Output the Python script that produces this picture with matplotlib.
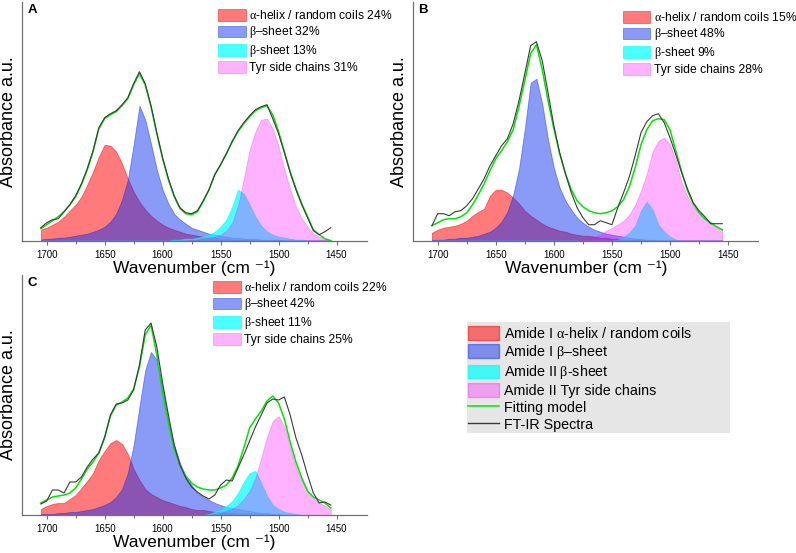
import matplotlib.pyplot as plt
from matplotlib.patches import Patch, Rectangle
from matplotlib.lines import Line2D

plt.rcParams['font.family'] = ['Liberation Sans', 'DejaVu Sans']
plt.rcParams['mathtext.fontset'] = 'custom'
plt.rcParams['mathtext.rm'] = 'Liberation Serif'

wavenumber = [1705, 1700, 1695, 1690, 1685, 1680, 1675, 1670, 1665, 1660,
              1655, 1650, 1645, 1640, 1635, 1630, 1625, 1620, 1615, 1610,
              1605, 1600, 1595, 1590, 1585, 1580, 1575, 1570, 1565, 1560,
              1555, 1550, 1545, 1540, 1535, 1530, 1525, 1520, 1515, 1510,
              1505, 1500, 1495, 1490, 1485, 1480, 1475, 1470, 1465, 1460, 1455]

# panel A
a_helix = [11, 13, 16, 19, 24, 30, 36, 44, 56, 69,
           84, 96, 95, 89, 77, 62, 49, 39, 31, 25,
           20, 16, 13, 11, 9, 7, 6, 5, 4, 3,
           3, 2, 2, 1, 1, 1, 1, 0, 0, 0,
           0, 0, 0, 0, 0, 0, 0, 0, 0, 0, 0]
a_sheet1 = [1, 2, 2, 3, 3, 4, 5, 6, 7, 9,
            11, 14, 19, 27, 41, 61, 96, 135, 121, 97,
            71, 51, 37, 27, 21, 17, 13, 11, 9, 7,
            6, 5, 4, 3, 3, 2, 2, 2, 1, 1,
            1, 1, 0, 0, 0, 0, 0, 0, 0, 0, 0]
a_sheet2 = [0, 0, 0, 0, 0, 0, 0, 0, 0, 0,
            0, 0, 0, 0, 0, 0, 0, 0, 0, 0,
            0, 0, 0, 1, 1, 2, 2, 3, 4, 6,
            9, 14, 21, 34, 51, 47, 36, 24, 15, 9,
            6, 4, 3, 2, 1, 1, 0, 0, 0, 0, 0]
a_tyr = [0, 0, 0, 0, 0, 0, 0, 0, 0, 0,
         0, 0, 0, 0, 0, 0, 0, 0, 0, 0,
         0, 0, 0, 0, 0, 0, 1, 1, 2, 3,
         4, 6, 10, 18, 35, 62, 91, 109, 121, 122,
         112, 94, 71, 51, 34, 22, 14, 7, 4, 2, 1]
a_fit = [12, 16, 20, 24, 29, 36, 44, 56, 71, 89,
         112, 122, 126, 129, 135, 142, 156, 167, 156, 134,
         107, 82, 61, 44, 32, 27, 26, 29, 39, 51,
         66, 76, 87, 99, 109, 117, 124, 130, 133, 135,
         126, 109, 89, 69, 52, 37, 24, 11, 6, 2, 0]
a_spectrum = [13, 18, 21, 22, 29, 36, 45, 57, 72, 90,
              113, 123, 127, 130, 136, 143, 157, 169, 157, 135,
              108, 83, 62, 45, 33, 28, 27, 30, 40, 51,
              66, 76, 87, 99, 110, 118, 125, 131, 134, 136,
              122, 107, 88, 68, 51, 36, 23, 10, 6, 9, 13]
a_pct = ['24%', '32%', '13%', '31%']

# panel B
b_helix = [8, 11, 13, 14, 15, 17, 20, 25, 29, 32,
           45, 51, 51, 48, 43, 37, 30, 25, 21, 17,
           14, 12, 10, 9, 7, 6, 5, 5, 4, 3,
           3, 2, 2, 1, 1, 1, 1, 0, 0, 0,
           0, 0, 0, 0, 0, 0, 0, 0, 0, 0, 0]
b_sheet1 = [1, 1, 1, 2, 2, 3, 3, 4, 5, 7,
            9, 13, 19, 29, 46, 72, 112, 158, 162, 137,
            101, 73, 53, 40, 31, 23, 18, 14, 11, 9,
            7, 6, 5, 4, 3, 2, 2, 1, 1, 0,
            0, 0, 0, 0, 0, 0, 0, 0, 0, 0, 0]
b_sheet2 = [0, 0, 0, 0, 0, 0, 0, 0, 0, 0,
            0, 0, 0, 0, 0, 0, 0, 0, 0, 0,
            0, 0, 0, 0, 0, 0, 0, 0, 0, 0,
            0, 0, 1, 4, 8, 15, 30, 39, 31, 16,
            9, 4, 1, 0, 0, 0, 0, 0, 0, 0, 0]
b_tyr = [0, 0, 0, 0, 0, 0, 0, 0, 0, 0,
         0, 0, 0, 0, 0, 0, 0, 0, 0, 0,
         0, 0, 0, 0, 0, 0, 1, 2, 4, 6,
         10, 13, 16, 20, 26, 36, 50, 67, 89, 100,
         103, 96, 80, 58, 44, 34, 27, 21, 17, 13, 11]
b_fit = [15, 18, 21, 22, 22, 24, 28, 36, 46, 57,
         70, 82, 90, 99, 111, 134, 160, 187, 196, 171,
         140, 112, 87, 67, 51, 40, 34, 30, 28, 27,
         28, 30, 34, 41, 54, 73, 96, 111, 120, 122,
         121, 111, 90, 69, 50, 37, 28, 22, 18, 14, 11]
b_spectrum = [15, 27, 27, 25, 29, 30, 35, 42, 52, 62,
              75, 85, 95, 102, 117, 140, 167, 195, 199, 180,
              148, 115, 88, 67, 48, 33, 23, 16, 16, 20,
              18, 16, 33, 48, 64, 85, 108, 119, 125, 127,
              118, 103, 86, 68, 52, 38, 30, 24, 17, 17, 17]
b_pct = ['15%', '48%', '9%', '28%']

# panel C
c_helix = [6, 9, 11, 12, 12, 16, 20, 27, 34, 42,
           55, 64, 72, 75, 71, 61, 46, 35, 26, 21,
           18, 15, 13, 11, 9, 8, 6, 5, 5, 4,
           3, 3, 2, 2, 1, 1, 1, 0, 0, 0,
           0, 0, 0, 0, 0, 0, 0, 0, 0, 0, 0]
c_sheet1 = [1, 1, 1, 2, 2, 3, 3, 4, 5, 6,
            8, 10, 13, 18, 26, 42, 70, 108, 145, 163,
            155, 127, 94, 70, 52, 38, 30, 22, 18, 15,
            12, 10, 8, 7, 6, 5, 4, 3, 2, 2,
            1, 1, 0, 0, 0, 0, 0, 0, 0, 0, 0]
c_sheet2 = [0, 0, 0, 0, 0, 0, 0, 0, 0, 0,
            0, 0, 0, 0, 0, 0, 0, 0, 0, 0,
            0, 0, 0, 0, 0, 0, 0, 0, 0, 1,
            3, 5, 9, 14, 22, 33, 42, 44, 32, 19,
            10, 6, 3, 2, 1, 0, 0, 0, 0, 0, 0]
c_tyr = [0, 0, 0, 0, 0, 0, 0, 0, 0, 0,
         0, 0, 0, 0, 0, 0, 0, 0, 0, 0,
         0, 0, 0, 0, 0, 0, 0, 0, 0, 0,
         1, 2, 4, 6, 10, 16, 24, 37, 57, 78,
         94, 99, 88, 68, 48, 34, 24, 17, 12, 9, 6]
c_fit = [12, 15, 18, 19, 20, 22, 27, 36, 46, 53,
         62, 77, 99, 110, 113, 117, 126, 148, 180, 190,
         160, 122, 92, 66, 50, 39, 32, 28, 26, 25,
         25, 27, 30, 37, 49, 67, 87, 96, 104, 114,
         119, 112, 96, 73, 53, 37, 24, 18, 15, 12, 7]
c_spectrum = [11, 14, 25, 25, 22, 33, 33, 38, 48, 56,
              62, 78, 100, 111, 112, 115, 125, 150, 185, 192,
              168, 132, 100, 70, 50, 37, 28, 23, 19, 16,
              20, 30, 35, 34, 47, 60, 74, 88, 100, 112,
              116, 115, 118, 100, 77, 60, 40, 22, 12, 13, 10]
c_pct = ['22%', '42%', '11%', '25%']

band_names = [r'$\mathrm{α}$-helix / random coils', r'$\mathrm{β}$–sheet',
              r'$\mathrm{β}$-sheet', 'Tyr side chains']
legend_names = [r'Amide I $\mathrm{α}$-helix / random coils', r'Amide I $\mathrm{β}$–sheet',
                r'Amide II $\mathrm{β}$-sheet', 'Amide II Tyr side chains',
                'Fitting model', 'FT-IR Spectra']

red = '#ff0000'
blue = '#0a2cf0'
cyan = '#00ffff'
pink = '#ff00ff'
green = '#00e600'
dark = '#3a3a3a'

W, H = 796, 553
fig = plt.figure(figsize=(W / 100, H / 100), dpi=100)


def draw_panel(box, helix, sheet1, sheet2, tyr, fit, spectrum, pct, letter, leg_xy):
    left, top, right, bottom = box
    ax = fig.add_axes([left / W, 1 - bottom / H, (right - left) / W, (bottom - top) / H])
    labels = [n + ' ' + p for n, p in zip(band_names, pct)]
    ax.fill_between(wavenumber, 0, helix, color=red, alpha=0.52, lw=0.6, label=labels[0])
    ax.fill_between(wavenumber, 0, sheet1, color=blue, alpha=0.48, lw=0.6, label=labels[1])
    ax.fill_between(wavenumber, 0, sheet2, color=cyan, alpha=0.7, lw=0.6, label=labels[2])
    ax.fill_between(wavenumber, 0, tyr, color=pink, alpha=0.3, lw=0.6, label=labels[3])
    ax.plot(wavenumber, fit, color=green, lw=1.1)
    ax.plot(wavenumber, spectrum, color=dark, lw=0.8)
    ax.set_xlim(1721, 1424)
    ax.set_ylim(0, bottom - top)
    ax.set_xticks([1700, 1650, 1600, 1550, 1500, 1450])
    ax.set_xticks([1675, 1625, 1575, 1525, 1475], minor=True)
    ax.set_yticks([])
    for s in ['top', 'right']:
        ax.spines[s].set_visible(False)
    for s in ['left', 'bottom']:
        ax.spines[s].set_color('#707070')
        ax.spines[s].set_linewidth(0.9)
    ax.tick_params(axis='x', which='major', length=3, width=0.8, color='#707070',
                   labelsize=7, pad=3.5)
    ax.tick_params(axis='x', which='minor', length=2.5, width=0.8, color='#707070')
    ax.set_xlabel('Wavenumber (cm \u207b\u00b9)', fontsize=12.5, labelpad=0.5)
    ax.set_ylabel('Absorbance a.u.', fontsize=13, labelpad=4)
    ax.patch.set_alpha(0)
    ax.legend(loc='upper left', bbox_to_anchor=(leg_xy[0] / W, 1 - leg_xy[1] / H),
              bbox_transform=fig.transFigure, frameon=False, fontsize=8.7,
              handlelength=2.3, handleheight=1.1, handletextpad=0.3,
              labelspacing=0.2, borderpad=0, borderaxespad=0)
    fig.text((left + 5) / W, 1 - (top + 2) / H, letter, fontsize=9.5,
             fontweight='bold', va='top', ha='left')
    return ax


draw_panel((22.3, 2, 366.7, 240.7), a_helix, a_sheet1, a_sheet2, a_tyr,
           a_fit, a_spectrum, a_pct, 'A', (218, 9))
draw_panel((413.3, 2, 758.3, 240.7), b_helix, b_sheet1, b_sheet2, b_tyr,
           b_fit, b_spectrum, b_pct, 'B', (622.5, 11))
draw_panel((22.3, 275, 366.7, 515), c_helix, c_sheet1, c_sheet2, c_tyr,
           c_fit, c_spectrum, c_pct, 'C', (213, 281))

# shared legend on grey box
fig.add_artist(Rectangle((467 / W, 1 - 433 / H), 263 / W, 111 / H,
                         transform=fig.transFigure, facecolor='#e6e6e6',
                         edgecolor='none', zorder=0))
handles = [Patch(facecolor=red, edgecolor=red, alpha=0.52),
           Patch(facecolor=blue, edgecolor=blue, alpha=0.48),
           Patch(facecolor=cyan, edgecolor=cyan, alpha=0.7),
           Patch(facecolor=pink, edgecolor=pink, alpha=0.3),
           Line2D([], [], color=green, lw=1.1),
           Line2D([], [], color=dark, lw=1.0)]
fig.legend(handles, legend_names, loc='upper left',
           bbox_to_anchor=(468 / W, 1 - 326 / H), bbox_transform=fig.transFigure,
           frameon=False, fontsize=10.3, handlelength=2.2, handleheight=1.1,
           handletextpad=0.35, labelspacing=0.15, borderpad=0, borderaxespad=0)

fig.savefig('out.png', dpi=100)
